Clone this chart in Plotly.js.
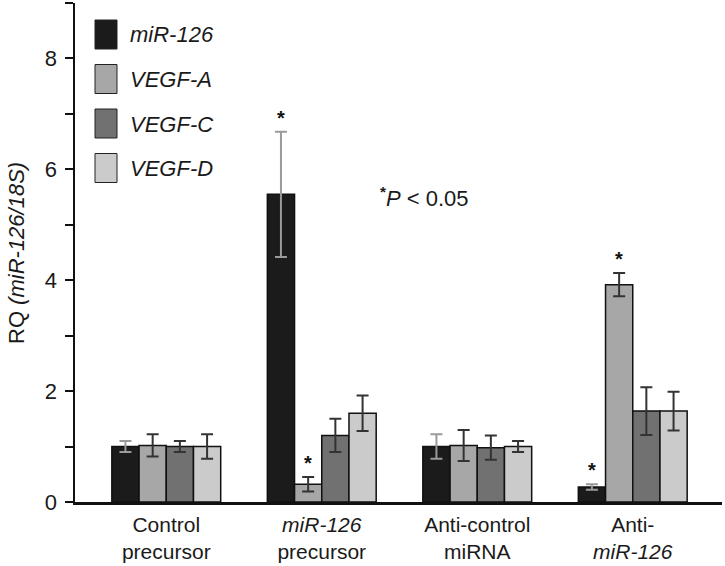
<!DOCTYPE html>
<html><head><meta charset="utf-8">
<script src="https://cdn.plot.ly/plotly-3.0.1.min.js"></script>
<style>body{margin:0;background:#fff}#chart{width:725px;height:566px}</style>
</head><body><div id="chart"></div>
<script>
const categories = ["Control<br>precursor", "<i>miR-126</i><br>precursor", "Anti-control<br>miRNA", "Anti-<br><i>miR-126</i>"];
const seriesNames = ["miR-126", "VEGF-A", "VEGF-C", "VEGF-D"];
const miR126 = [1.0, 5.55, 1.0, 0.27];
const miR126Err = [0.1, 1.13, 0.22, 0.05];
const vegfA = [1.02, 0.32, 1.02, 3.92];
const vegfAErr = [0.2, 0.13, 0.28, 0.21];
const vegfC = [1.0, 1.2, 0.98, 1.64];
const vegfCErr = [0.1, 0.3, 0.22, 0.43];
const vegfD = [1.0, 1.6, 1.0, 1.64];
const vegfDErr = [0.22, 0.32, 0.1, 0.35];
const significant = [[false, true, false, true], [false, true, false, true], [false, false, false, false], [false, false, false, false]];
const colors = ["#1b1b1b", "#a7a7a7", "#717171", "#cbcbcb"];
const errColors = ["#9a9a9a", "#333333", "#333333", "#333333"];

const FONT = "Liberation Sans, Arial, sans-serif";
const vals = [miR126, vegfA, vegfC, vegfD];
const errs = [miR126Err, vegfAErr, vegfCErr, vegfDErr];
const bargap = 0.30;
const traces = vals.map((v, i) => ({
  type: "bar", name: seriesNames[i], x: categories, y: v,
  marker: {color: colors[i], line: {color: "#111", width: 1.5}},
  error_y: {type: "data", array: errs[i], visible: true, color: errColors[i], thickness: 2, width: 6},
  showlegend: false, hoverinfo: "skip"
}));

const annotations = [];
const n = vals.length, bw = (1 - bargap) / n;
vals.forEach((v, i) => v.forEach((y, c) => {
  if (significant[i][c]) {
    annotations.push({x: c - (1 - bargap) / 2 + bw * (i + 0.5), xref: "x", y: y + errs[i][c], yref: "y",
      text: "<b>*</b>", showarrow: false, yanchor: "middle", yshift: 14,
      font: {family: FONT, size: 20, color: "#111"}});
  }
}));

// manual legend (swatches + labels)
const L = 75, W = 647, B = 502, H = 499;
const px = x => (x - L) / W, py = y => (B - y) / H;
const shapes = [];
seriesNames.forEach((s, i) => {
  const top = 20 + i * 44.5;
  shapes.push({type: "rect", xref: "paper", yref: "paper", x0: px(95), x1: px(117), y0: py(top + 29), y1: py(top),
    fillcolor: colors[i], line: {color: "#222", width: 1}});
  annotations.push({xref: "paper", yref: "paper", x: px(128), y: py(top + 15), xanchor: "left", yanchor: "middle",
    text: "<i>" + s + "</i>", showarrow: false, font: {family: FONT, size: 22, color: "#1a1a1a"}});
});
annotations.push({xref: "paper", yref: "paper", x: px(378), y: py(197), xanchor: "left", yanchor: "middle",
  text: "<sup><b>*</b></sup><i>P</i> < 0.05", showarrow: false, font: {family: FONT, size: 22, color: "#1a1a1a"}});
annotations.push({xref: "paper", yref: "paper", x: px(16), y: py(253), xanchor: "center", yanchor: "middle", textangle: -90,
  text: "RQ <i>(miR-126/18S)</i>", showarrow: false, font: {family: FONT, size: 22, color: "#1a1a1a"}});

const layout = {
  width: 725, height: 566,
  margin: {l: 75, r: 3, t: 3, b: 64},
  paper_bgcolor: "#fff", plot_bgcolor: "#fff",
  barmode: "group", bargap: bargap, bargroupgap: 0,
  font: {family: FONT, size: 22, color: "#1a1a1a"},
  xaxis: {range: [-0.587, 3.574], showline: true, linecolor: "#111", linewidth: 2.5, ticks: "", showgrid: false, zeroline: false,
    tickfont: {size: 21}, automargin: false, ticklabelstandoff: 2},
  yaxis: {range: [0, 9], showline: true, linecolor: "#111", linewidth: 2.5, ticks: "outside", ticklen: 8, tickwidth: 2, tickcolor: "#111",
    tickvals: [0, 2, 4, 6, 8], showgrid: false, zeroline: false, tickfont: {size: 22}, automargin: false, ticklabelstandoff: 3,
    minor: {tickvals: [1, 3, 5, 7, 9], ticks: "outside", ticklen: 8, tickwidth: 2, tickcolor: "#111", showgrid: false}},
  shapes: shapes, annotations: annotations
};
Plotly.newPlot("chart", traces, layout, {staticPlot: true});
</script></body></html>
